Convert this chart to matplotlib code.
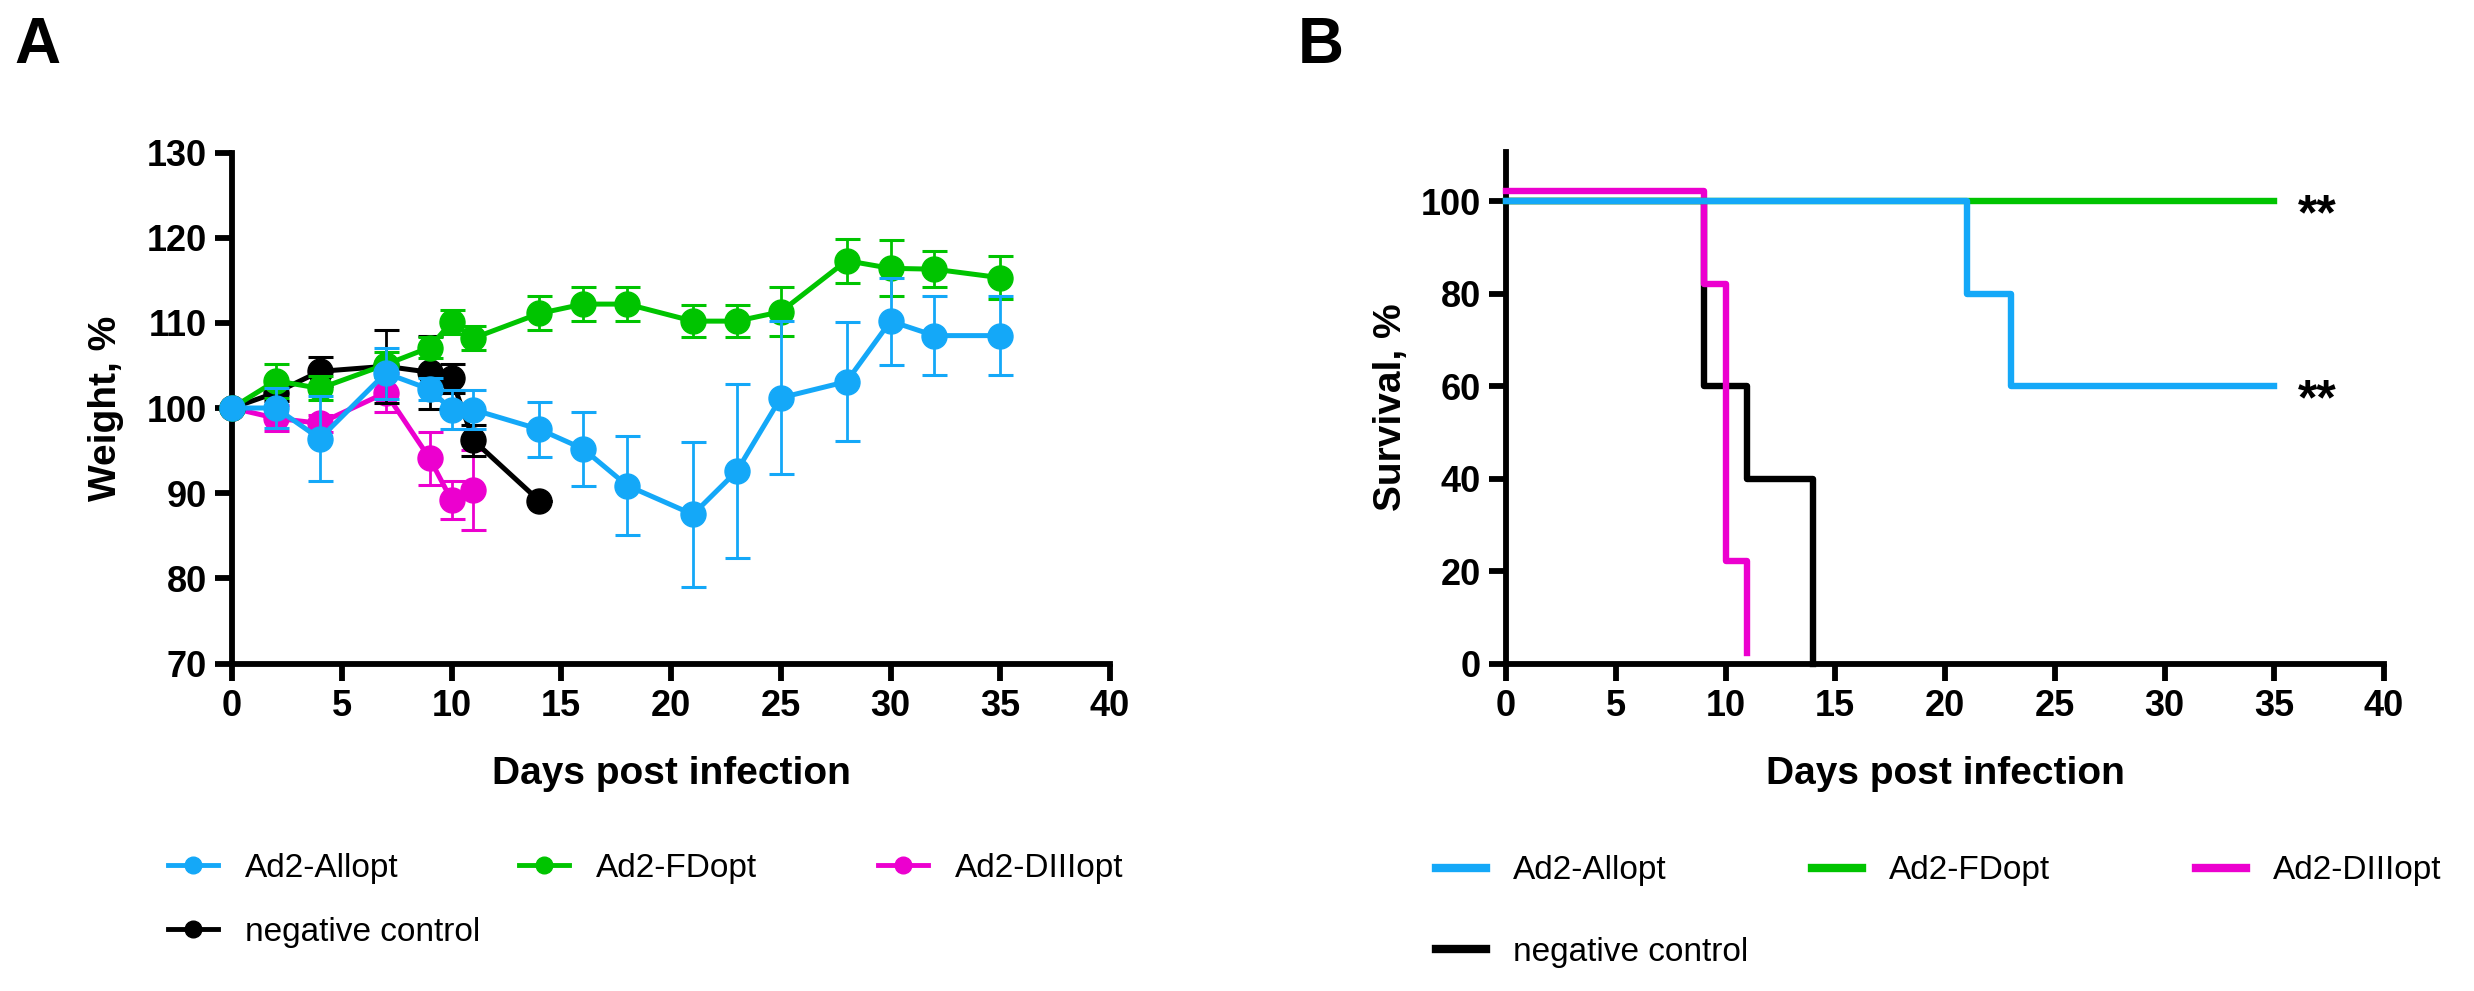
import matplotlib
matplotlib.use('Agg')
import matplotlib.pyplot as plt
from matplotlib.lines import Line2D

plt.rcParams['font.family'] = ['Liberation Sans', 'DejaVu Sans']
plt.rcParams['font.weight'] = 'bold'

# ---------------- Panel A data: weight (%) ----------------
days_allopt = [0, 2, 4, 7, 9, 10, 11, 14, 16, 18, 21, 23, 25, 28, 30, 32, 35]
w_allopt = [100, 100.0, 96.4, 104.1, 102.2, 99.8, 99.8, 97.5, 95.2, 90.9, 87.5, 92.6, 101.2, 103.1, 110.2, 108.5, 108.5]
e_allopt = [0, 2.3, 5.0, 3.0, 1.3, 2.3, 2.3, 3.2, 4.3, 5.8, 8.5, 10.2, 9.0, 7.0, 5.1, 4.6, 4.6]

days_fdopt = [0, 2, 4, 7, 9, 10, 11, 14, 16, 18, 21, 23, 25, 28, 30, 32, 35]
w_fdopt = [100, 103.2, 102.3, 105.1, 107.1, 110.1, 108.2, 111.1, 112.2, 112.2, 110.2, 110.2, 111.3, 117.3, 116.4, 116.3, 115.3]
e_fdopt = [0, 2.0, 1.4, 1.5, 1.2, 1.4, 1.4, 2.0, 2.0, 2.0, 1.9, 1.9, 2.9, 2.6, 3.3, 2.1, 2.5]

days_diii = [0, 2, 4, 7, 9, 10, 11]
w_diii = [100, 98.8, 98.2, 101.8, 94.1, 89.2, 90.4]
e_diii = [0, 1.5, 1.0, 2.3, 3.1, 2.2, 4.7]

days_neg = [0, 2, 4, 7, 9, 10, 11, 14]
w_neg = [100, 101.8, 104.3, 104.9, 104.2, 103.5, 96.2, 89.1]
e_neg = [0, 1.0, 1.7, 4.3, 4.3, 1.7, 1.8, 0]

# ---------------- Panel B data: survival (%) ----------------
surv_days_allopt = [0, 21, 23, 35]
surv_allopt = [100, 80, 60, 60]
surv_days_fdopt = [0, 35]
surv_fdopt = [100, 100]
surv_days_diii = [0, 9, 10, 11]
surv_diii = [100, 80, 20, 0]
surv_days_neg = [0, 9, 11, 14]
surv_neg = [100, 60, 40, 0]

labels = ['Ad2-Allopt', 'Ad2-FDopt', 'Ad2-DIIIopt', 'negative control']
c_blue = '#14A8F8'
c_green = '#00C400'
c_mag = '#EC00CF'
c_black = '#000000'

W, H = 2474, 991
fig = plt.figure(figsize=(W / 100, H / 100), dpi=100)
axA = fig.add_axes([232 / W, 1 - 663.5 / H, 878 / W, 511 / H])
axB = fig.add_axes([1506 / W, 1 - 663.5 / H, 878 / W, 511.7 / H])


def style_axes(ax):
    for s in ['top', 'right']:
        ax.spines[s].set_visible(False)
    for s in ['left', 'bottom']:
        ax.spines[s].set_linewidth(4.2)
        ax.spines[s].set_capstyle('projecting')
    ax.tick_params(width=4.2, length=12, labelsize=26, pad=6, direction='out')
    for lab in ax.get_xticklabels() + ax.get_yticklabels():
        lab.set_fontweight('bold')


# ---- Panel A ----
series = [
    (days_diii, w_diii, e_diii, c_mag, 2),
    (days_neg, w_neg, e_neg, c_black, 3),
    (days_fdopt, w_fdopt, e_fdopt, c_green, 4),
    (days_allopt, w_allopt, e_allopt, c_blue, 5),
]
for d, w, e, c, z in series:
    axA.errorbar(d, w, yerr=e, color=c, lw=3.6, marker='o', ms=18,
                 capsize=9, elinewidth=2.0, capthick=2.2, clip_on=False, zorder=z)
axA.set_xlim(0, 40)
axA.set_ylim(70, 130)
axA.set_xticks(range(0, 41, 5))
axA.set_yticks(range(70, 131, 10))
style_axes(axA)
axA.set_xlabel('Days post infection', fontsize=28, fontweight='bold')
axA.set_ylabel('Weight, %', fontsize=28, fontweight='bold')
axA.xaxis.set_label_coords(0.5, -0.216)
axA.xaxis.label.set_va('center')
axA.yaxis.set_label_coords(-0.143, 0.5)
axA.yaxis.label.set_va('center')

# ---- Panel B ----
offset = 2.2  # display offset used for the overlapping DIIIopt curve
lwB = 4.6
axB.step(surv_days_neg, surv_neg, where='post', color=c_black, lw=lwB, zorder=2, clip_on=False)
axB.step(surv_days_diii, [v + offset for v in surv_diii], where='post', color=c_mag, lw=lwB, zorder=3, clip_on=False)
axB.step(surv_days_fdopt, surv_fdopt, where='post', color=c_green, lw=lwB, zorder=4, clip_on=False)
axB.step(surv_days_allopt, surv_allopt, where='post', color=c_blue, lw=lwB, zorder=5, clip_on=False)
axB.set_xlim(0, 40)
axB.set_ylim(0, 110.7)
axB.set_xticks(range(0, 41, 5))
axB.set_yticks(range(0, 101, 20))
style_axes(axB)
axB.set_xlabel('Days post infection', fontsize=28, fontweight='bold')
axB.set_ylabel('Survival, %', fontsize=28, fontweight='bold')
axB.xaxis.set_label_coords(0.5, -0.216)
axB.xaxis.label.set_va('center')
axB.yaxis.set_label_coords(-0.131, 0.5)
axB.yaxis.label.set_va('center')

for yv in [surv_fdopt[-1], surv_allopt[-1]]:
    axB.annotate('**', xy=(36.1, yv), xytext=(0, -20), textcoords='offset points',
                 ha='left', va='baseline', fontsize=36, fontweight='bold')

# ---- Panel letters ----
fig.text(14 / W, 1 - 16 / H, 'A', fontsize=46, fontweight='bold', ha='left', va='top')
fig.text(1298 / W, 1 - 16 / H, 'B', fontsize=46, fontweight='bold', ha='left', va='top')

# ---- Legends ----
colors = [c_blue, c_green, c_mag, c_black]
posA = [(168, 868), (519, 868), (878, 868), (168, 932)]
posB = [(1436, 871), (1812, 871), (2196, 871), (1436, 952)]
for lab, c, (x, y) in zip(labels, colors, posA):
    h = Line2D([], [], color=c, lw=3.5, marker='o', ms=12)
    fig.legend([h], [lab], loc='center left', bbox_to_anchor=(x / W, 1 - y / H),
               frameon=False, prop={'size': 24, 'weight': 'normal'},
               handlelength=1.5, handletextpad=0.8, borderpad=0, borderaxespad=0)
for lab, c, (x, y) in zip(labels, colors, posB):
    h = Line2D([], [], color=c, lw=6)
    fig.legend([h], [lab], loc='center left', bbox_to_anchor=(x / W, 1 - y / H),
               frameon=False, prop={'size': 24, 'weight': 'normal'},
               handlelength=1.5, handletextpad=0.8, borderpad=0, borderaxespad=0)

fig.savefig('out.png', dpi=100)
